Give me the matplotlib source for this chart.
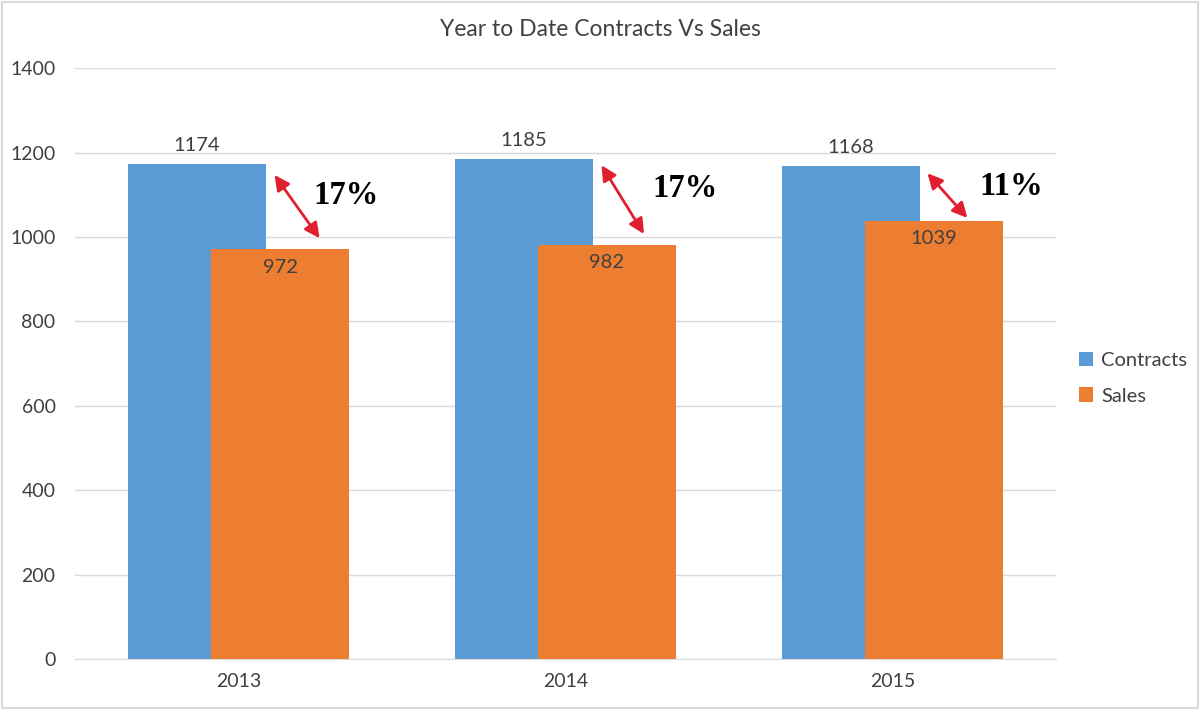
"""Year to date contracts vs sales, overlapping bar chart"""

import matplotlib
matplotlib.use("Agg")
import matplotlib.pyplot as plt
from matplotlib.patches import Rectangle
import numpy as np

years = ["2013", "2014", "2015"]
contracts = [1174, 1185, 1168]
sales = [972, 982, 1039]
gap_labels = ["17%", "17%", "11%"]

BLUE = "#5B9BD5"
ORANGE = "#ED7D31"
TEXT = "#404040"
GRID = "#D9D9D9"
RED = "#E0202E"

plt.rcParams["font.family"] = ["Lato", "DejaVu Sans"]

fig = plt.figure(figsize=(12, 7.1), dpi=100)
ax = fig.add_axes([0.0625, 0.0718, 0.8175, 0.8322])

x = np.arange(len(years))
width = 0.422
offset = 0.127

ax.bar(x - offset, contracts, width, color=BLUE, label="Contracts", zorder=2)
ax.bar(x + offset, sales, width, color=ORANGE, label="Sales", zorder=3)

# value labels
for i in range(len(years)):
    ax.annotate(str(contracts[i]), (x[i] - offset, contracts[i]), xytext=(0, 7),
                textcoords="offset points", ha="center", va="bottom",
                fontsize=14.5, color=TEXT)
    ax.annotate(str(sales[i]), (x[i] + offset, sales[i]), xytext=(0, -7),
                textcoords="offset points", ha="center", va="top",
                fontsize=14.5, color=TEXT, zorder=4)

# double arrows between contract and sales tops
arrow_start = [(0.11, -27), (0.11, -15), (0.107, -17)]
arrow_end = [(0.248, 25), (0.24, 25), (0.229, 6)]
text_pos = [(0.33, 1099), (0.364, 1116), (0.364, 1120)]
for i in range(len(years)):
    x0 = x[i] + arrow_start[i][0]
    y0 = contracts[i] + arrow_start[i][1]
    x1 = x[i] + arrow_end[i][0]
    y1 = sales[i] + arrow_end[i][1]
    ax.annotate("", xy=(x1, y1), xytext=(x0, y0),
                arrowprops=dict(arrowstyle="<|-|>,head_length=0.9,head_width=0.45",
                                color=RED, lw=2, shrinkA=0, shrinkB=0),
                zorder=5)
    ax.text(x[i] + text_pos[i][0], text_pos[i][1], gap_labels[i],
            ha="center", va="center", fontsize=23.5, fontweight="bold",
            family="Liberation Serif", color="black")

ax.set_xlim(-0.5, 2.5)
ax.set_ylim(0, 1400)
ax.set_yticks(range(0, 1401, 200))
ax.set_xticks(x)
ax.set_xticklabels(years)
ax.tick_params(axis="both", length=0, labelsize=14, colors=TEXT)
ax.tick_params(axis="y", pad=14)
ax.tick_params(axis="x", pad=10)

ax.grid(axis="y", color=GRID, lw=1, zorder=0)
for side in ["left", "right", "top"]:
    ax.spines[side].set_visible(False)
ax.spines["bottom"].set_color(GRID)

fig.text(0.5, 0.958, "Year to Date Contracts Vs Sales", ha="center", va="center",
         fontsize=16.5, color=TEXT)

ax.legend(loc="center left", bbox_to_anchor=(1.005, 0.475), frameon=False,
          fontsize=14.5, handlelength=0.7, handleheight=0.7,
          handletextpad=0.4, labelspacing=0.9, labelcolor=TEXT)

# light border around the chart
fig.patches.append(Rectangle((0.002, 0.003), 0.996, 0.994, transform=fig.transFigure,
                             fill=False, edgecolor=GRID, lw=1.5))

fig.savefig("out.png", dpi=100)
